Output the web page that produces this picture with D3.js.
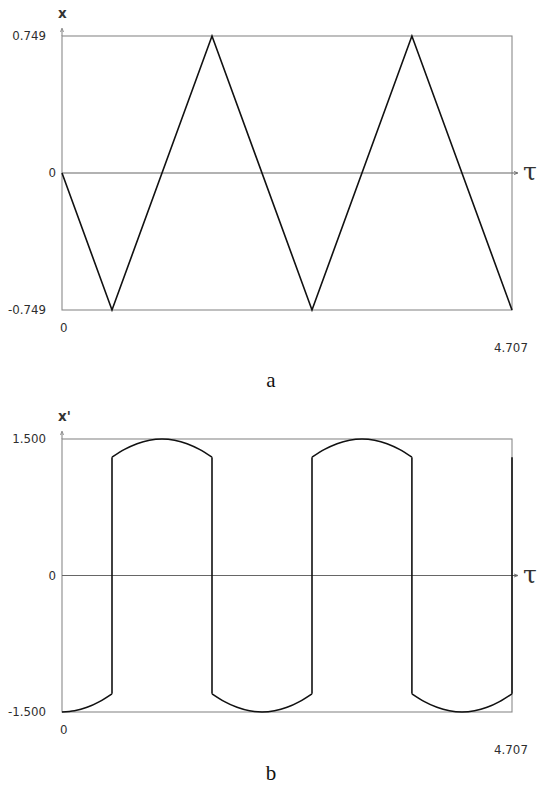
<!DOCTYPE html>
<html>
<head>
<meta charset="utf-8">
<script src="https://cdn.jsdelivr.net/npm/d3@7"></script>
<style>
  html, body { margin: 0; padding: 0; background: #fff; }
  svg { display: block; }
  .tick { font-family: "DejaVu Sans", Verdana, sans-serif; font-size: 11.8px; fill: #2e2e2e; }
  .cap { font-family: "Liberation Serif", "Times New Roman", serif; font-size: 21px; fill: #111; }
</style>
</head>
<body>
<svg id="chart" width="542" height="794"></svg>
<script>
// ---- data ----
const tauDomain = [0, 4.707];
const xRange = [-0.749, 0.749];
const vRange = [-1.5, 1.5];

// panel a: displacement (triangle wave vertices)
const tauVertices = [0, 0.523, 1.569, 2.615, 3.660, 4.707];
const xValues     = [0, -0.749, 0.749, -0.749, 0.749, -0.749];

// panel b: velocity (arcs with jumps at impacts)
const velTau = [
  0, 0.131, 0.262, 0.392, 0.523,
  0.523, 0.654, 0.785, 0.915, 1.046, 1.177, 1.308, 1.438, 1.569,
  1.569, 1.700, 1.831, 1.961, 2.092, 2.223, 2.354, 2.484, 2.615,
  2.615, 2.746, 2.877, 3.007, 3.138, 3.269, 3.400, 3.530, 3.660,
  3.660, 3.791, 3.922, 4.053, 4.184, 4.315, 4.446, 4.576, 4.707,
  4.707
];
const velValues = [
  -1.5, -1.487, -1.449, -1.386, -1.3,
  1.3, 1.386, 1.449, 1.487, 1.5, 1.487, 1.449, 1.386, 1.3,
  -1.3, -1.386, -1.449, -1.487, -1.5, -1.487, -1.449, -1.386, -1.3,
  1.3, 1.386, 1.449, 1.487, 1.5, 1.487, 1.449, 1.386, 1.3,
  -1.3, -1.386, -1.449, -1.487, -1.5, -1.487, -1.449, -1.386, -1.3,
  1.3
];

const topTicks = ["0.749", "0", "-0.749"];
const botTicks = ["1.500", "0", "-1.500"];
const xTickLabels = ["0", "4.707"];

// ---- drawing ----
const svg = d3.select("#chart");
const x = d3.scaleLinear().domain(tauDomain).range([62, 512]);

function panel(yScale, yLabel, ticks, tickVals, top, bottom, capText, capY) {
  const g = svg.append("g");
  const frameColor = "#8a8a8a";
  g.append("rect")
    .attr("x", x(tauDomain[0])).attr("y", top)
    .attr("width", x(tauDomain[1]) - x(tauDomain[0])).attr("height", bottom - top)
    .attr("fill", "none").attr("stroke", frameColor).attr("stroke-width", 1.1);
  g.append("line").attr("x1", x(0)).attr("x2", x(0)).attr("y1", top - 7).attr("y2", top)
    .attr("stroke", frameColor).attr("stroke-width", 1.1);
  g.append("path").attr("d", `M${x(0)-1.5},${top-4} L${x(0)},${top-8} L${x(0)+1.5},${top-4}`)
    .attr("fill", "none").attr("stroke", frameColor).attr("stroke-width", 0.9);
  const y0 = yScale(0);
  g.append("line").attr("x1", x(0)).attr("x2", x(tauDomain[1]) + 5).attr("y1", y0).attr("y2", y0)
    .attr("stroke", "#666").attr("stroke-width", 1.1);
  g.append("path").attr("d", `M${x(tauDomain[1])+2},${y0-1.5} L${x(tauDomain[1])+6},${y0} L${x(tauDomain[1])+2},${y0+1.5}`)
    .attr("fill", "none").attr("stroke", "#666").attr("stroke-width", 0.9);
  g.append("text").attr("x", x(tauDomain[1]) + 11).attr("y", y0 + 7)
    .attr("font-family", "'DejaVu Serif', 'Liberation Serif', serif").attr("font-size", 25)
    .attr("fill", "#333").text("τ");
  g.append("text").attr("x", x(0) - 4).attr("y", top - 18)
    .attr("font-family", "'DejaVu Sans', Verdana, sans-serif").attr("font-size", 13.5)
    .attr("font-weight", "bold").attr("fill", "#333").text(yLabel);
  tickVals.forEach((v, i) => {
    g.append("text").attr("class", "tick")
      .attr("x", v === 0 ? 56 : 46).attr("y", yScale(v) + 4)
      .attr("text-anchor", "end").text(ticks[i]);
  });
  g.append("text").attr("class", "tick").attr("x", x(tauDomain[0]) - 2).attr("y", bottom + 22)
    .text(xTickLabels[0]);
  g.append("text").attr("class", "tick").attr("x", x(tauDomain[1]) - 1).attr("y", bottom + 42)
    .attr("text-anchor", "middle").text(xTickLabels[1]);
  g.append("text").attr("class", "cap").attr("x", 271).attr("y", capY)
    .attr("text-anchor", "middle").text(capText);
  return g;
}

// panel a
const yA = d3.scaleLinear().domain(xRange).range([310, 36]);
const gA = panel(yA, "x", topTicks, [0.749, 0, -0.749], 36, 310, "a", 387);
const lineA = d3.line().x(d => x(d[0])).y(d => yA(d[1]));
gA.append("path")
  .datum(tauVertices.map((t, i) => [t, xValues[i]]))
  .attr("d", lineA).attr("fill", "none").attr("stroke", "#111").attr("stroke-width", 1.6)
  .attr("stroke-linejoin", "miter");

// panel b
const yB = d3.scaleLinear().domain(vRange).range([712, 439]);
const gB = panel(yB, "x'", botTicks, [1.5, 0, -1.5], 439, 712, "b", 780);
const pts = velTau.map((t, i) => [t, velValues[i]]);
const arcs = [];
let cur = [];
pts.forEach((p, i) => {
  if (i > 0 && p[0] === pts[i - 1][0]) { arcs.push(cur); cur = []; }
  cur.push(p);
});
arcs.push(cur);
const smooth = d3.line().x(d => x(d[0])).y(d => yB(d[1])).curve(d3.curveMonotoneX);
const straight = d3.line().x(d => x(d[0])).y(d => yB(d[1]));
arcs.forEach((a, i) => {
  if (a.length > 1) {
    gB.append("path").datum(a).attr("d", smooth)
      .attr("fill", "none").attr("stroke", "#111").attr("stroke-width", 1.6);
  }
  if (i > 0) {
    const prev = arcs[i - 1];
    gB.append("path").datum([prev[prev.length - 1], a[0]]).attr("d", straight)
      .attr("fill", "none").attr("stroke", "#111").attr("stroke-width", 1.6);
  }
});
</script>
</body>
</html>
